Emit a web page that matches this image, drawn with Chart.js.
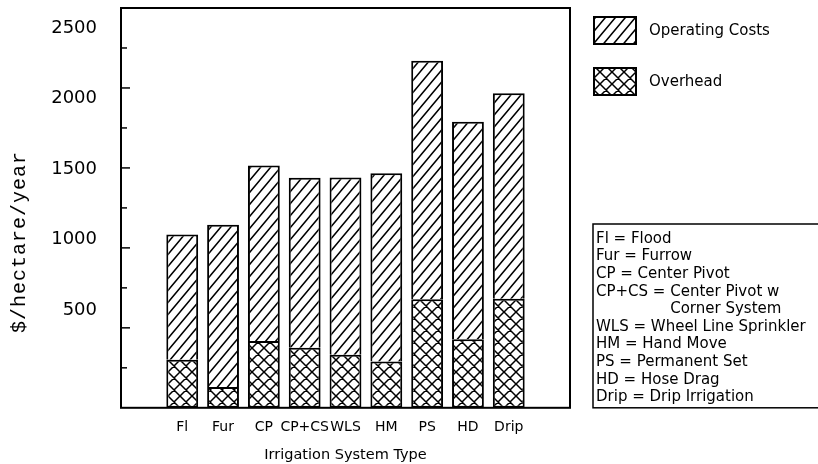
<!DOCTYPE html>
<html>
<head>
<meta charset="utf-8">
<script src="https://cdn.jsdelivr.net/npm/chart.js@4"></script>
<style>
  html, body { margin: 0; padding: 0; background: #fff; }
</style>
</head>
<body>
<canvas id="myChart" width="818" height="464"></canvas>
<script>
var categories = ["Fl", "Fur", "CP", "CP+CS", "WLS", "HM", "PS", "HD", "Drip"];
var overhead = [300, 130, 418, 376, 332, 290, 678, 428, 682];
var operatingCosts = [784, 1014, 1097, 1062, 1108, 1177, 1492, 1360, 1285];
var yTickLabels = [500, 1000, 1500, 2000, 2500];
var categoryNames = ["Flood", "Furrow", "Center Pivot", "Center Pivot w\nCorner System",
    "Wheel Line Sprinkler", "Hand Move", "Permanent Set", "Hose Drag", "Drip Irrigation"];

var canvas = document.getElementById("myChart");
var ctx = canvas.getContext("2d");

// hatch fills, like the old plotter patterns
function makePattern(w, h, cross) {
    var c = document.createElement("canvas");
    c.width = w; c.height = h;
    var g = c.getContext("2d");
    g.fillStyle = "#fff";
    g.fillRect(0, 0, w, h);
    g.strokeStyle = "#000";
    g.lineWidth = 1.5;
    g.beginPath();
    g.moveTo(-w, 2 * h); g.lineTo(2 * w, -h);
    g.moveTo(-w, h); g.lineTo(w, -h);
    g.moveTo(0, 2 * h); g.lineTo(2 * w, 0);
    if (cross) {
        g.moveTo(-w, -h); g.lineTo(2 * w, 2 * h);
        g.moveTo(0, -h); g.lineTo(2 * w, h);
        g.moveTo(-w, 0); g.lineTo(w, 2 * h);
    }
    g.stroke();
    return ctx.createPattern(c, "repeat");
}
var hatch = makePattern(10, 12, false);
var crossHatch = makePattern(12, 12, true);

const framePlugin = {
    id: "frame",
    afterDatasetsDraw(chart) {
        const c = chart.ctx;
        const area = chart.chartArea;
        const y = chart.scales.y;
        const yl = chart.scales.yl;
        c.save();
        c.strokeStyle = "#000";
        c.fillStyle = "#000";

        // plot frame
        c.lineWidth = 2;
        c.strokeRect(area.left, area.top, area.right - area.left, area.bottom - area.top);

        // inward ticks on the value axis
        c.lineWidth = 1.5;
        y.ticks.forEach(t => {
            if (t.value <= 0 || t.value >= 2500) return;
            const py = y.getPixelForValue(t.value);
            const len = t.value % 500 === 0 ? 9 : 6;
            c.beginPath();
            c.moveTo(area.left, py);
            c.lineTo(area.left + len, py);
            c.stroke();
        });

        // tick labels (printed a little off from the tick marks in the original)
        c.font = '18px "DejaVu Sans"';
        c.textAlign = "right";
        c.textBaseline = "middle";
        yl.ticks.forEach(t => {
            c.fillText(String(t.value), area.left - 24, yl.getPixelForValue(t.value));
        });

        // y title
        c.save();
        c.translate(20, (area.top + area.bottom) / 2 + 34);
        c.rotate(-Math.PI / 2);
        c.font = '20px "Liberation Mono"';
        c.letterSpacing = "1px";
        c.textAlign = "center";
        c.fillText("$/hectare/year", 0, 0);
        c.restore();

        // legend
        const lx = area.right + 24;
        const sets = chart.data.datasets.slice().reverse();
        c.font = '15px "DejaVu Sans"';
        c.textAlign = "left";
        c.lineWidth = 2;
        sets.forEach((ds, i) => {
            const top = 17 + i * 51;
            c.fillStyle = ds.backgroundColor;
            c.fillRect(lx, top, 42, 27);
            c.strokeRect(lx, top, 42, 27);
            c.fillStyle = "#000";
            c.fillText(ds.label, lx + 55, top + 14);
        });

        // abbreviation key
        const bx = area.right + 23;
        const by = 224;
        c.lineWidth = 1.5;
        c.strokeRect(bx, by, 300, area.bottom - by);
        c.font = '15px "DejaVu Sans"';
        let line = 0;
        categories.forEach((code, i) => {
            const head = code + " = ";
            const parts = categoryNames[i].split("\n");
            const indent = c.measureText(head).width;
            parts.forEach((p, j) => {
                const ty = by + 15 + line * 17.6;
                if (j === 0) c.fillText(head + p, bx + 3, ty);
                else c.fillText(p, bx + 3 + indent, ty);
                line++;
            });
        });
        c.restore();
    }
};

new Chart(ctx, {
    type: "bar",
    data: {
        datasets: [{
            label: "Overhead",
            data: overhead.map((v, i) => ({ x: i, y: v })),
            backgroundColor: crossHatch,
            borderColor: "#000",
            borderWidth: 2,
            borderSkipped: false,
            stack: "s",
            barPercentage: 0.78,
            categoryPercentage: 1
        }, {
            label: "Operating Costs",
            data: operatingCosts.map((v, i) => ({ x: i, y: v })),
            backgroundColor: hatch,
            borderColor: "#000",
            borderWidth: 2,
            borderSkipped: "bottom",
            stack: "s",
            barPercentage: 0.78,
            categoryPercentage: 1
        }]
    },
    options: {
        responsive: false,
        animation: false,
        layout: { padding: { left: 121, right: 248, top: 8, bottom: 0 } },
        plugins: {
            legend: { display: false },
            tooltip: { enabled: false }
        },
        scales: {
            x: {
                type: "linear",
                min: -1,
                max: 9,
                grid: { display: false, drawTicks: false },
                border: { display: false },
                ticks: {
                    stepSize: 1,
                    autoSkip: false,
                    maxRotation: 0,
                    padding: 11,
                    color: "#000",
                    font: { family: "DejaVu Sans", size: 14 },
                    callback: v => categories[v] || ""
                },
                title: {
                    display: true,
                    text: "Irrigation System Type",
                    color: "#000",
                    font: { family: "DejaVu Sans", size: 14.5 },
                    padding: { top: 0, bottom: 0 }
                }
            },
            y: {
                display: false,
                stacked: true,
                min: 0,
                max: 2500,
                ticks: { stepSize: 250 }
            },
            yl: {
                display: false,
                min: -195,
                max: 2642,
                afterBuildTicks: s => { s.ticks = yTickLabels.map(v => ({ value: v })); }
            }
        }
    },
    plugins: [framePlugin]
});
</script>
</body>
</html>
